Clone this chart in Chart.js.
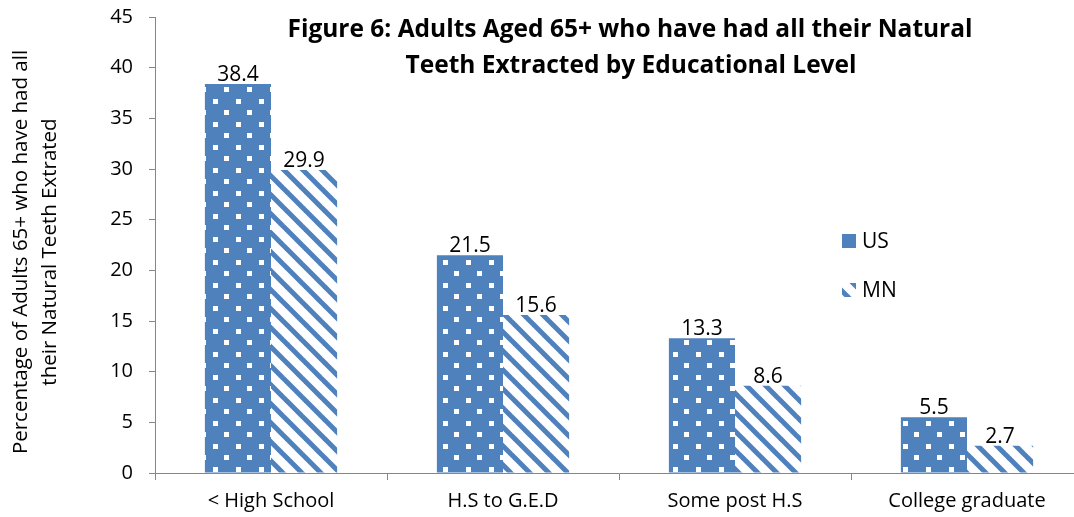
<!DOCTYPE html>
<html>
<head>
<meta charset="utf-8">
<script src="https://cdn.jsdelivr.net/npm/chart.js@4.4.1/dist/chart.umd.min.js"></script>
<style>
  html, body { margin: 0; padding: 0; background: #fff; overflow: hidden; }
  #wrap { position: relative; width: 1084px; height: 517px; }
</style>
</head>
<body>
<div id="wrap"><canvas id="chart"></canvas></div>
<script>
const categories = ['< High School', 'H.S to G.E.D', 'Some post H.S', 'College graduate'];
const usValues = [38.4, 21.5, 13.3, 5.5];
const mnValues = [29.9, 15.6, 8.6, 2.7];
const seriesNames = ['US', 'MN'];
const titleLines = ['Figure 6: Adults Aged 65+ who have had all their Natural', 'Teeth Extracted by Educational Level'];
const yTitleLines = ['Percentage of Adults 65+ who have had all', 'their Natural Teeth Extrated'];

const BLUE = '#4f81bd';
const AXIS = '#868686';
const FONT = "'Open Sans', sans-serif";

// white square dots on blue, staggered rows
function dotPattern() {
    const c = document.createElement('canvas');
    c.width = 23; c.height = 23;
    const g = c.getContext('2d');
    g.fillStyle = BLUE;
    g.fillRect(0, 0, 23, 23);
    g.fillStyle = '#fff';
    g.fillRect(6, 7, 5, 5);
    g.fillRect(17, 18, 5, 5);
    return g.createPattern(c, 'repeat');
}

// blue "\" stripes on white
function stripePattern() {
    const s = 19;
    const c = document.createElement('canvas');
    c.width = s; c.height = s;
    const g = c.getContext('2d');
    g.fillStyle = '#fff';
    g.fillRect(0, 0, s, s);
    g.strokeStyle = BLUE;
    g.lineWidth = 5;
    for (const off of [-s, 0, s]) {
        g.beginPath();
        g.moveTo(off - 2, -2);
        g.lineTo(off + s + 2, s + 2);
        g.stroke();
    }
    return g.createPattern(c, 'repeat');
}

const usFill = dotPattern();
const mnFill = stripePattern();

// titles, value labels and legend drawn on top of the plot
const overlay = {
    id: 'overlay',
    afterDatasetsDraw(chart) {
        const ctx = chart.ctx;
        ctx.save();
        ctx.fillStyle = '#000';

        // values above bars
        ctx.font = '21px ' + FONT;
        ctx.textAlign = 'center';
        ctx.textBaseline = 'alphabetic';
        chart.data.datasets.forEach((ds, i) => {
            chart.getDatasetMeta(i).data.forEach((bar, j) => {
                ctx.fillText(ds.data[j].toFixed(1), bar.x, bar.y - 3);
            });
        });

        // chart title
        ctx.font = 'bold 24.5px ' + FONT;
        ctx.textBaseline = 'middle';
        ctx.fillText(titleLines[0], 630, 30);
        ctx.fillText(titleLines[1], 631, 66);

        // rotated y axis title
        ctx.save();
        ctx.translate(0, 252);
        ctx.rotate(-Math.PI / 2);
        ctx.font = '20.5px ' + FONT;
        ctx.fillText(yTitleLines[0], 0, 21);
        ctx.fillText(yTitleLines[1], 0, 50);
        ctx.restore();

        // legend
        const items = [[usFill, 241], [mnFill, 290]];
        ctx.font = '21px ' + FONT;
        ctx.textAlign = 'left';
        items.forEach(([fill, y], i) => {
            ctx.save();
            ctx.beginPath();
            ctx.rect(842, y - 7, 14, 14);
            ctx.clip();
            ctx.fillStyle = fill;
            ctx.fill();
            ctx.restore();
            ctx.fillText(seriesNames[i], 862, y + 1);
        });
        ctx.restore();
    }
};

new Chart(document.getElementById('chart'), {
    type: 'bar',
    data: {
        labels: categories,
        datasets: [
            { label: seriesNames[0], data: usValues, backgroundColor: usFill },
            { label: seriesNames[1], data: mnValues, backgroundColor: mnFill }
        ]
    },
    options: {
        responsive: true,
        maintainAspectRatio: false,
        animation: false,
        devicePixelRatio: 1,
        layout: { padding: { top: 17, right: 1, left: 0, bottom: 0 } },
        datasets: { bar: { categoryPercentage: 0.57, barPercentage: 1.0 } },
        plugins: {
            legend: { display: false },
            tooltip: { enabled: false }
        },
        scales: {
            x: {
                grid: { offset: true, drawOnChartArea: false, color: AXIS, tickLength: 7 },
                border: { color: AXIS, width: 1 },
                ticks: { color: '#000', font: { family: FONT, size: 20 }, padding: 9, maxRotation: 0 },
                afterFit(scale) { scale.height = 44; }
            },
            y: {
                min: 0, max: 45,
                grid: { drawOnChartArea: false, color: AXIS, tickLength: 6 },
                border: { color: AXIS, width: 1 },
                ticks: { stepSize: 5, color: '#000', font: { family: FONT, size: 20 }, padding: 16 },
                afterFit(scale) {
                    scale.width = 155;
                    // keep the tick label overhang from pushing the plot down
                    scale.paddingTop = 0;
                    scale.paddingBottom = 0;
                }
            }
        }
    },
    plugins: [overlay]
});
</script>
</body>
</html>
